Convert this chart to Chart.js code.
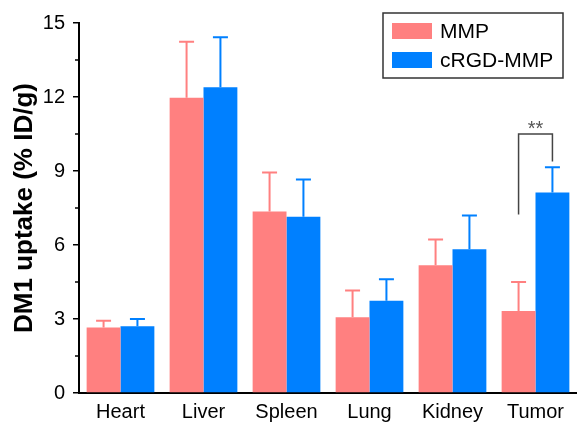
<!DOCTYPE html>
<html>
<head>
<meta charset="utf-8">
<style>
html,body{margin:0;padding:0;background:#fff;}
#wrap{width:577px;height:422px;position:relative;}
</style>
<script src="https://cdn.jsdelivr.net/npm/chart.js@4.4.1/dist/chart.umd.min.js"></script>
</head>
<body>
<div id="wrap"><canvas id="c" width="577" height="422"></canvas></div>
<script>
const categories = ["Heart", "Liver", "Spleen", "Lung", "Kidney", "Tumor"];
const seriesNames = ["MMP", "cRGD-MMP"];
const mmpValues = [2.66, 11.97, 7.36, 3.07, 5.18, 3.32];
const mmpErrors = [0.27, 2.27, 1.58, 1.09, 1.04, 1.18];
const rgdValues = [2.71, 12.40, 7.15, 3.74, 5.83, 8.13];
const rgdErrors = [0.29, 2.02, 1.51, 0.87, 1.37, 1.02];
const yTicks = [0, 3, 6, 9, 12, 15];
const yMinorTicks = [1.5, 4.5, 7.5, 10.5, 13.5];
const sigLabel = "**";
const sigBracket = {category: "Tumor", top: 10.5, leftBottom: 7.24, rightBottom: 9.39};

const PINK = "rgb(255,128,128)";
const BLUE = "rgb(0,128,255)";
const FONT = "'Liberation Sans', Arial, sans-serif";

const errorBars = {
  id: "errorBars",
  afterDatasetsDraw(chart) {
    const ctx = chart.ctx;
    const y = chart.scales.y;
    chart.data.datasets.forEach((ds, i) => {
      const meta = chart.getDatasetMeta(i);
      meta.data.forEach((bar, j) => {
        const top = y.getPixelForValue(ds.data[j] + ds.errors[j]);
        ctx.save();
        ctx.strokeStyle = ds.backgroundColor;
        ctx.lineWidth = 2;
        ctx.beginPath();
        ctx.moveTo(bar.x, bar.y);
        ctx.lineTo(bar.x, top);
        ctx.moveTo(bar.x - 7.5, top);
        ctx.lineTo(bar.x + 7.5, top);
        ctx.stroke();
        ctx.restore();
      });
    });
  }
};

const extras = {
  id: "extras",
  afterDraw(chart) {
    const ctx = chart.ctx;
    const y = chart.scales.y;
    const area = chart.chartArea;
    ctx.save();
    // minor y ticks
    ctx.strokeStyle = "#000";
    ctx.lineWidth = 1.5;
    yMinorTicks.forEach(v => {
      const py = y.getPixelForValue(v);
      ctx.beginPath();
      ctx.moveTo(area.left - 4, py);
      ctx.lineTo(area.left, py);
      ctx.stroke();
    });
    // significance bracket
    const idx = categories.indexOf(sigBracket.category);
    const b0 = chart.getDatasetMeta(0).data[idx];
    const b1 = chart.getDatasetMeta(1).data[idx];
    const yt = y.getPixelForValue(sigBracket.top);
    ctx.strokeStyle = "#444";
    ctx.lineWidth = 1.5;
    ctx.beginPath();
    ctx.moveTo(b0.x, y.getPixelForValue(sigBracket.leftBottom));
    ctx.lineTo(b0.x, yt);
    ctx.lineTo(b1.x, yt);
    ctx.lineTo(b1.x, y.getPixelForValue(sigBracket.rightBottom));
    ctx.stroke();
    ctx.fillStyle = "#555";
    ctx.font = "20px " + FONT;
    ctx.textAlign = "center";
    ctx.textBaseline = "alphabetic";
    ctx.fillText(sigLabel, (b0.x + b1.x) / 2, yt + 1);
    // legend
    const lx = 383, ly = 13, lw = 180, lh = 65;
    ctx.strokeStyle = "#333";
    ctx.lineWidth = 1.5;
    ctx.fillStyle = "#fff";
    ctx.fillRect(lx, ly, lw, lh);
    ctx.strokeRect(lx, ly, lw, lh);
    const rows = [31, 60];
    chart.data.datasets.forEach((ds, i) => {
      ctx.fillStyle = ds.backgroundColor;
      ctx.fillRect(392, rows[i] - 8, 40, 16);
      ctx.fillStyle = "#000";
      ctx.font = "21px " + FONT;
      ctx.textAlign = "left";
      ctx.textBaseline = "middle";
      ctx.fillText(ds.label, 440, rows[i] + 1);
    });
    ctx.restore();
  }
};

new Chart(document.getElementById("c"), {
  type: "bar",
  data: {
    labels: categories,
    datasets: [
      {label: seriesNames[0], data: mmpValues, errors: mmpErrors, backgroundColor: PINK, borderWidth: 0},
      {label: seriesNames[1], data: rgdValues, errors: rgdErrors, backgroundColor: BLUE, borderWidth: 0}
    ]
  },
  options: {
    responsive: false,
    animation: false,
    events: [],
    layout: {padding: {top: 23, right: 0, left: 0, bottom: 0}},
    plugins: {legend: {display: false}, tooltip: {enabled: false}},
    datasets: {bar: {barPercentage: 1.0, categoryPercentage: 0.816}},
    scales: {
      x: {
        grid: {display: false, drawTicks: false},
        border: {display: true, color: "#000", width: 2},
        ticks: {color: "#000", font: {size: 20, family: FONT}, padding: 7, maxRotation: 0},
        afterFit(s) { s.height = 29; }
      },
      y: {
        min: 0, max: 15,
        afterBuildTicks(s) { s.ticks = yTicks.map(v => ({value: v})); },
        grid: {display: true, drawOnChartArea: false, drawTicks: true, tickLength: 6, color: "#000", lineWidth: 1.5},
        border: {display: true, color: "#000", width: 2},
        ticks: {color: "#000", font: {size: 20, family: FONT}, padding: 8},
        title: {display: true, text: "DM1 uptake (% ID/g)", color: "#000", font: {size: 26, weight: "bold", family: FONT}, padding: {top: 9, bottom: 0}},
        afterFit(s) { s.width = 79; }
      }
    }
  },
  plugins: [errorBars, extras]
});
</script>
</body>
</html>
